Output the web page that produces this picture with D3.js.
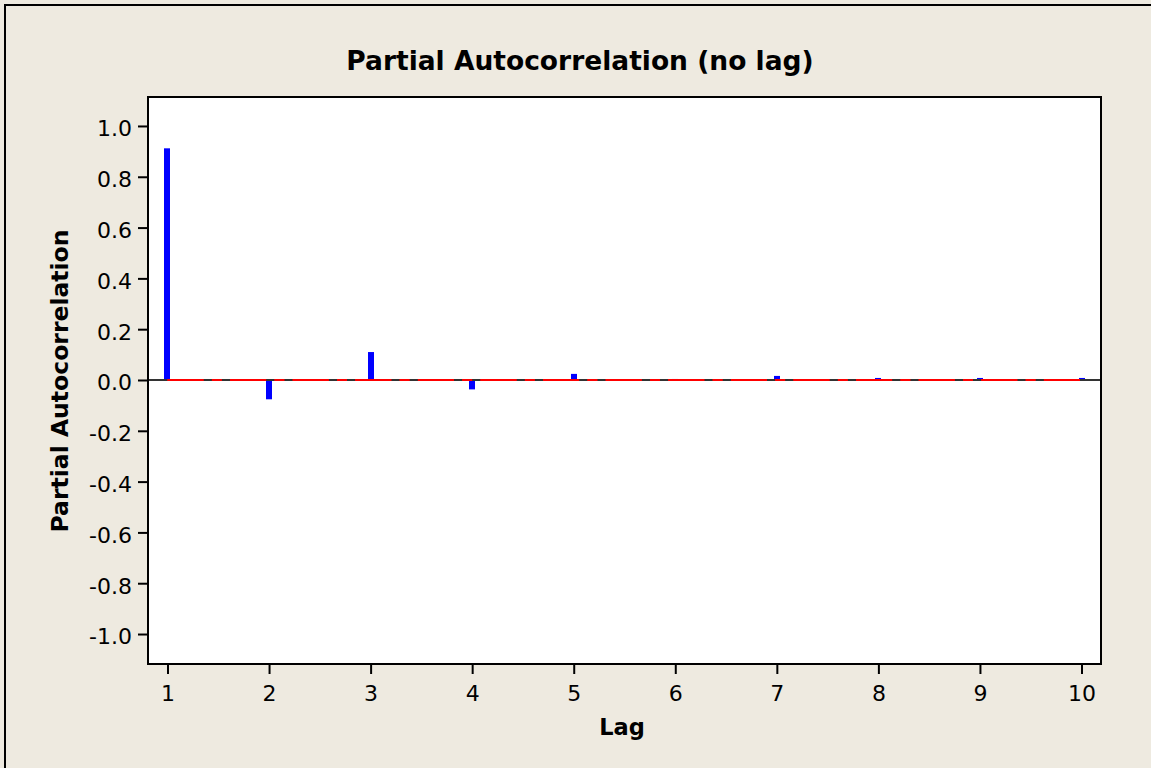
<!DOCTYPE html>
<html>
<head>
<meta charset="utf-8">
<script src="https://cdn.jsdelivr.net/npm/d3@7"></script>
<style>
  html, body { margin: 0; padding: 0; background: #EEEAE0; }
  svg { display: block; }
</style>
</head>
<body>
<svg id="chart" width="1151" height="768"></svg>
<script>
// ---- data ----
const lags = [1, 2, 3, 4, 5, 6, 7, 8, 9, 10];
const pacf = [0.912, -0.076, 0.110, -0.037, 0.024, 0.004, 0.016, 0.008, 0.008, 0.008];
const upperLimit = [0, 0, 0, 0, 0, 0, 0, 0, 0, 0];
const lowerLimit = [0, 0, 0, 0, 0, 0, 0, 0, 0, 0];
const yTicks = [-1.0, -0.8, -0.6, -0.4, -0.2, 0.0, 0.2, 0.4, 0.6, 0.8, 1.0];
const xTicks = [1, 2, 3, 4, 5, 6, 7, 8, 9, 10];
const titleText = "Partial Autocorrelation (no lag)";
const xLabel = "Lag";
const yLabel = "Partial Autocorrelation";

// ---- layout ----
const W = 1151, H = 768;
const plot = { left: 148, right: 1101, top: 97, bottom: 664 };
const font = "'DejaVu Sans', Verdana, sans-serif";

const svg = d3.select("#chart");

// outer frame
svg.append("rect")
  .attr("x", 5).attr("y", 5).attr("width", W + 20).attr("height", H + 20)
  .attr("fill", "#EEEAE0").attr("stroke", "#000").attr("stroke-width", 2);

const x = d3.scaleLinear().domain([0.808, 10.192]).range([plot.left, plot.right]);
const y = d3.scaleLinear().domain([-1.118, 1.114]).range([plot.bottom, plot.top]);

// plot background
svg.append("rect")
  .attr("x", plot.left).attr("y", plot.top)
  .attr("width", plot.right - plot.left).attr("height", plot.bottom - plot.top)
  .attr("fill", "#FFFFFF");

// bars
svg.append("g").selectAll("rect").data(lags).join("rect")
  .attr("x", (d) => Math.round(x(d)) - 3)
  .attr("width", 6)
  .attr("y", (d, i) => Math.min(y(0), y(pacf[i])))
  .attr("height", (d, i) => Math.abs(y(pacf[i]) - y(0)))
  .attr("fill", "#0000FF");

// zero reference line
svg.append("line")
  .attr("x1", plot.left).attr("x2", plot.right)
  .attr("y1", y(0)).attr("y2", y(0))
  .attr("stroke", "#333333").attr("stroke-width", 2);

// significance limits (red dash-dot)
const limitLine = d3.line().x((d) => x(d[0])).y((d) => y(d[1]));
[upperLimit, lowerLimit].forEach((arr) => {
  svg.append("path")
    .attr("d", limitLine(lags.map((l, i) => [l, arr[i]])))
    .attr("fill", "none")
    .attr("stroke", "#FF0000").attr("stroke-width", 2)
    .attr("stroke-dasharray", "36,8.4,9.8,8.4");
});

// axes
const fmt = (v) => d3.format(".1f")(v).replace("\u2212", "-");
const yAxis = svg.append("g")
  .attr("transform", `translate(${plot.left},0)`)
  .call(d3.axisLeft(y).tickValues(yTicks).tickFormat(fmt).tickSize(10).tickPadding(6));
yAxis.select(".domain").remove();
yAxis.selectAll(".tick line").attr("stroke", "#000").attr("stroke-width", 2);
yAxis.selectAll(".tick text")
  .attr("font-family", font).attr("font-size", 22).attr("fill", "#000").attr("dy", "0.45em");

const xAxis = svg.append("g")
  .attr("transform", `translate(0,${plot.bottom})`)
  .call(d3.axisBottom(x).tickValues(xTicks).tickFormat(d3.format("d")).tickSize(10).tickPadding(11));
xAxis.select(".domain").remove();
xAxis.selectAll(".tick line").attr("stroke", "#000").attr("stroke-width", 2);
xAxis.selectAll(".tick text")
  .attr("font-family", font).attr("font-size", 22).attr("fill", "#000");

// plot frame
svg.append("rect")
  .attr("x", plot.left).attr("y", plot.top)
  .attr("width", plot.right - plot.left).attr("height", plot.bottom - plot.top)
  .attr("fill", "none").attr("stroke", "#000").attr("stroke-width", 2);

// title
svg.append("text")
  .attr("x", 580).attr("y", 69.5)
  .attr("text-anchor", "middle")
  .attr("font-family", font).attr("font-weight", "bold").attr("font-size", 26.5)
  .attr("fill", "#000")
  .text(titleText);

// x label
svg.append("text")
  .attr("x", 622).attr("y", 735)
  .attr("text-anchor", "middle")
  .attr("font-family", font).attr("font-weight", "bold").attr("font-size", 22.5)
  .attr("fill", "#000")
  .text(xLabel);

// y label
svg.append("text")
  .attr("transform", "translate(68,381) rotate(-90)")
  .attr("text-anchor", "middle")
  .attr("font-family", font).attr("font-weight", "bold").attr("font-size", 23.5)
  .attr("fill", "#000")
  .text(yLabel);
</script>
</body>
</html>
